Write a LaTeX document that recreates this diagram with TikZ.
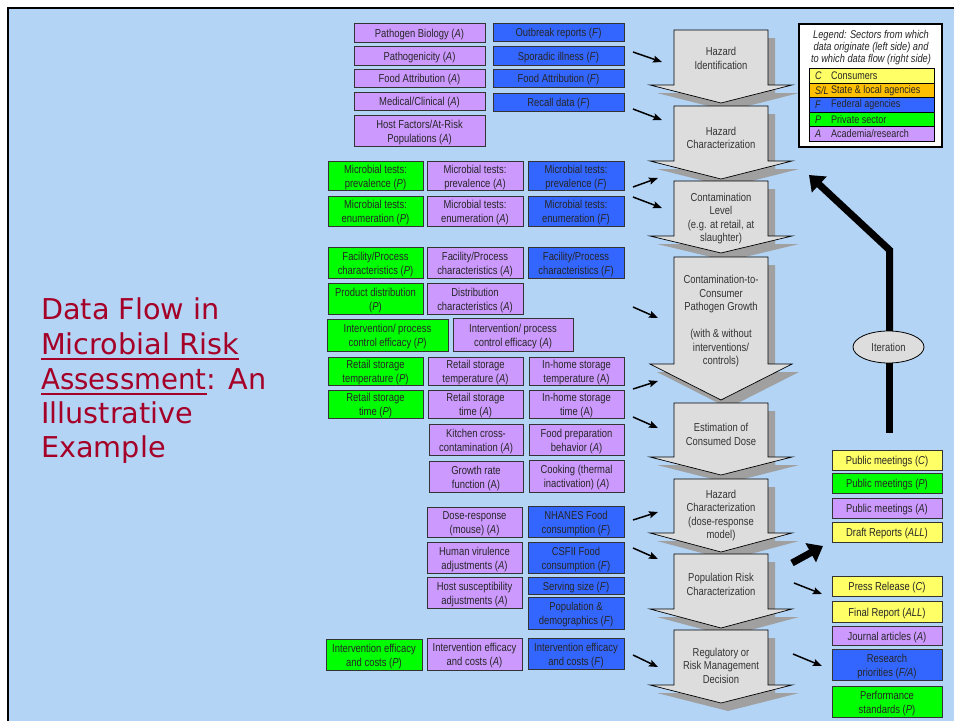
\documentclass[tikz,border=0pt]{standalone}
\usepackage{fontspec}
\setmainfont{Liberation Sans}
\newfontfamily\narrow{Liberation Sans}[FakeStretch=0.82]
\newfontfamily\titlefont{DejaVu Sans}
\usetikzlibrary{arrows.meta,shapes.geometric}
\definecolor{bg}{RGB}{179,212,245}
\definecolor{purp}{RGB}{204,153,255}
\definecolor{fed}{RGB}{51,102,255}
\definecolor{priv}{RGB}{0,255,0}
\definecolor{cons}{RGB}{255,255,102}
\definecolor{stl}{RGB}{255,192,0}
\definecolor{arrowfill}{RGB}{221,221,221}
\definecolor{shad}{RGB}{160,160,160}
\definecolor{titlered}{RGB}{165,0,40}
\newcommand\ita[1]{\textit{#1}}
\newcommand\bx[7]{%
 \node[box,fill=#6,minimum width={(#4-#2)*1pt},minimum height={(#5-#3)*1pt}] (#1) at ({(#2+#4)/2},{(#3+#5)/2}) {};
 \node[boxtext] at ([yshift=-1.8pt]#1.center) {#7};}
\newcommand\bigarrow[6]{%
 \fill[shad] (681,{#2+8}) -- (775,{#2+8}) -- (775,{#3+8}) -- (799,{#3+8}) -- (728,{#4+8}) -- (657,{#3+8}) -- (681,{#3+8}) -- cycle;
 \draw[line width=0.7pt, fill=arrowfill] (674,#2) -- (768,#2) -- (768,#3) -- (792,#3) -- (721,#4) -- (650,#3) -- (674,#3) -- cycle;
 \node[arrowtext] (#1) at (721,{#6+1.5}) {#5};}
\newcommand\legrow[6]{%
 \node[draw=black, line width=0.8pt, fill=#2, minimum width=125pt, minimum height={(#4-#3)*1pt}, inner sep=0pt] (#1) at (871.5,{(#3+#4)/2}) {};
 \node[legtext, anchor=west] at (815,{(#3+#4)/2+0.5}) {\ita{#5}};
 \node[legtext, anchor=west] at (831,{(#3+#4)/2+0.5}) {#6};}
\tikzset{
 box/.style={draw=black!80, line width=0.7pt, inner sep=0pt},
 boxtext/.style={inner sep=0pt, align=center, text=black!85, font=\narrow\fontsize{11.5}{14}\selectfont},
 arrowtext/.style={align=center, text=black!80, inner sep=0pt, font=\narrow\fontsize{11.5}{13.5}\selectfont},
 legtext/.style={inner sep=0pt, text=black!85, font=\narrow\fontsize{11}{12}\selectfont},
 flow/.style={line width=1.5pt, -{Stealth[length=9pt,width=7pt,inset=1.5pt]}},
 bigflow/.style={line width=7pt, -{Triangle[length=14pt,width=21pt]}},
 titletext/.style={inner sep=0pt, anchor=base west, text=titlered, font=\titlefont\fontsize{28.7}{34}\selectfont},
 ul/.style={titlered, line width=2pt},
}
\begin{document}
\begin{tikzpicture}[x=1pt,y=-1pt]
\useasboundingbox (0,0) rectangle (954,721);
\fill[white] (0,0) rectangle (954,721);
\fill[bg] (8,8) rectangle (954,721);
\draw[line width=2.5pt] (8,721) -- (8,8) -- (954,8);

% title
\node[titletext] (t1) at (41,319) {Data Flow in};
\node[titletext] (t2) at (41,354) {Microbial Risk};
\node[titletext] (t3) at (41,389) {\addfontfeature{FakeStretch=0.96}Assessment};
\node[titletext] (t3b) at (t3.base east) {: An};
\node[titletext] (t4) at (41,423) {Illustrative};
\node[titletext] (t5) at (41,457) {Example};
\draw[ul] ([yshift=-5pt]t2.base west) -- ([yshift=-5pt]t2.base east);
\draw[ul] ([yshift=-5pt]t3.base west) -- ([yshift=-5pt]t3.base east);

% big flow arrows
\bigarrow{haz}{30}{85}{103}{Hazard\\Identification}{57}
\bigarrow{hch}{106}{161}{179}{Hazard\\Characterization}{136.5}
\bigarrow{clv}{181}{236}{253}{Contamination\\Level\\(e.g. at retail, at\\slaughter)}{217}
\fill[shad] (681,265) -- (775,265) -- (775,372) -- (799,372) -- (728,408) -- (657,372) -- (681,372) -- cycle;
\draw[line width=0.7pt, fill=arrowfill] (674,257) -- (768,257) -- (768,364) -- (792,364) -- (721,400) -- (650,364) -- (674,364) -- cycle;
\node[arrowtext] (ccg) at (721,321.5) {Contamination-to-\\Consumer\\Pathogen Growth\\[13.5pt](with \& without\\interventions/\\controls)};
\bigarrow{ecd}{403}{457}{475}{Estimation of\\Consumed Dose}{433}
\bigarrow{hdr}{479}{533}{552}{Hazard\\Characterization\\(dose-response\\model)}{514}
\bigarrow{prc}{554}{609}{628}{Population Risk\\Characterization}{583}
\bigarrow{rmd}{630}{685}{703}{Regulatory or\\Risk Management\\Decision}{664}

% left data boxes
\bx{pb}{354}{23}{485}{42}{purp}{Pathogen Biology (\ita{A})}
\bx{pg}{354}{46}{485}{65}{purp}{Pathogenicity (\ita{A})}
\bx{faA}{354}{69}{485}{87}{purp}{Food Attribution (\ita{A})}
\bx{mc}{354}{92}{485}{110}{purp}{Medical/Clinical (\ita{A})}
\bx{hf}{354}{115}{485}{146}{purp}{Host Factors/At-Risk\\Populations (\ita{A})}
\bx{ob}{493}{23}{624}{41}{fed}{Outbreak reports (\ita{F})}
\bx{si}{493}{46}{624}{65}{fed}{Sporadic illness (\ita{F})}
\bx{faF}{493}{69}{624}{87}{fed}{Food Attribution (\ita{F})}
\bx{rd}{493}{93}{624}{111}{fed}{Recall data (\ita{F})}

\bx{mpP}{328}{161}{423}{190}{priv}{Microbial tests:\\prevalence (\ita{P})}
\bx{mpA}{427}{161}{523}{190}{purp}{Microbial tests:\\prevalence (\ita{A})}
\bx{mpF}{528}{161}{624}{190}{fed}{Microbial tests:\\prevalence (\ita{F})}
\bx{meP}{328}{196}{423}{226}{priv}{Microbial tests:\\enumeration (\ita{P})}
\bx{meA}{427}{196}{523}{226}{purp}{Microbial tests:\\enumeration (\ita{A})}
\bx{meF}{528}{196}{624}{226}{fed}{Microbial tests:\\enumeration (\ita{F})}

\bx{fcP}{328}{247}{423}{278}{priv}{Facility/Process\\characteristics (\ita{P})}
\bx{fcA}{427}{247}{523}{278}{purp}{Facility/Process\\characteristics (\ita{A})}
\bx{fcF}{528}{247}{624}{278}{fed}{Facility/Process\\characteristics (\ita{F})}
\bx{pdP}{328}{283}{423}{314}{priv}{Product distribution\\(\ita{P})}
\bx{dcA}{427}{283}{523}{314}{purp}{Distribution\\characteristics (\ita{A})}
\bx{ipP}{327}{319}{448}{351}{priv}{Intervention/ process\\control efficacy (\ita{P})}
\bx{ipA}{453}{318}{573}{351}{purp}{Intervention/ process\\control efficacy (\ita{A})}
\bx{rtP}{328}{357}{423}{385}{priv}{Retail storage\\temperature (\ita{P})}
\bx{rtA}{428}{357}{523}{385}{purp}{Retail storage\\temperature (\ita{A})}
\bx{htA}{529}{357}{624}{385}{purp}{In-home storage\\temperature (A)}
\bx{rsP}{328}{390}{423}{418}{priv}{Retail storage\\time (\ita{P})}
\bx{rsA}{428}{390}{523}{418}{purp}{Retail storage\\time (\ita{A})}
\bx{hsA}{529}{390}{624}{418}{purp}{In-home storage\\time (A)}
\bx{kc}{429}{424}{523}{455}{purp}{Kitchen cross-\\contamination (\ita{A})}
\bx{fp}{529}{424}{624}{455}{purp}{Food preparation\\behavior (\ita{A})}
\bx{gr}{429}{461}{523}{492}{purp}{Growth rate\\function (A)}
\bx{ck}{529}{460}{624}{492}{purp}{Cooking (thermal\\inactivation) (\ita{A})}

\bx{dr}{427}{507}{522}{537}{purp}{Dose-response\\(mouse) (\ita{A})}
\bx{nh}{528}{506}{624}{537}{fed}{NHANES Food\\consumption (\ita{F})}
\bx{hv}{427}{542}{522}{573}{purp}{Human virulence\\adjustments (\ita{A})}
\bx{cs}{528}{542}{624}{573}{fed}{CSFII Food\\consumption (\ita{F})}
\bx{hsu}{427}{577}{522}{608}{purp}{Host susceptibility\\adjustments (\ita{A})}
\bx{ss}{528}{577}{624}{594}{fed}{Serving size (\ita{F})}
\bx{pop}{528}{597}{624}{629}{fed}{Population \&\\demographics (\ita{F})}
\bx{ieP}{326}{639}{422}{670}{priv}{Intervention efficacy\\and costs (\ita{P})}
\bx{ieA}{427}{638}{522}{670}{purp}{Intervention efficacy\\and costs (\ita{A})}
\bx{ieF}{528}{638}{624}{669}{fed}{Intervention efficacy\\and costs (\ita{F})}

% right output boxes
\bx{pmC}{832}{450}{942}{470}{cons}{Public meetings (\ita{C})}
\bx{pmP}{832}{473}{942}{493}{priv}{Public meetings (\ita{P})}
\bx{pmA}{832}{498}{942}{518}{purp}{Public meetings (\ita{A})}
\bx{drf}{832}{522}{942}{542}{cons}{Draft Reports (\ita{ALL})}
\bx{prs}{832}{576}{942}{596}{cons}{Press Release (\ita{C})}
\bx{frp}{832}{601}{942}{622}{cons}{Final Report (\ita{ALL})}
\bx{jar}{832}{626}{942}{645}{purp}{Journal articles (\ita{A})}
\bx{rpr}{832}{649}{942}{680}{fed}{Research\\priorities (\ita{F/A})}
\bx{pst}{832}{686}{942}{717}{priv}{Performance\\standards (\ita{P})}

% legend
\node[draw=black, line width=1.6pt, fill=white, minimum width=143pt, minimum height=123pt, inner sep=0pt] (leg) at (870.5,85.5) {};
\node[legtext, align=center, font=\narrow\itshape\fontsize{11.3}{12}\selectfont] (legt) at (871,47.5) {Legend: Sectors from which\\data originate (left side) and\\to which data flow (right side)};
\legrow{lc}{cons}{68}{83}{C}{Consumers}
\legrow{ls}{stl}{83}{97}{S/L}{State \& local agencies}
\legrow{lf}{fed}{97}{112}{F}{Federal agencies}
\legrow{lp}{priv}{112}{126}{P}{Private sector}
\legrow{la}{purp}{126}{141}{A}{Academia/research}

% small data-flow arrows
\coordinate (a1s) at (633,52);  \coordinate (a1e) at (662,62);
\coordinate (a2s) at (633,109); \coordinate (a2e) at (662,120);
\coordinate (a3s) at (633,187); \coordinate (a3e) at (658,178);
\coordinate (a4s) at (633,197); \coordinate (a4e) at (662,208);
\coordinate (a5s) at (633,307); \coordinate (a5e) at (658,318);
\coordinate (a6s) at (633,389); \coordinate (a6e) at (658,381);
\coordinate (a7s) at (633,417); \coordinate (a7e) at (658,428);
\coordinate (a8s) at (633,520); \coordinate (a8e) at (658,512);
\coordinate (a9s) at (633,548); \coordinate (a9e) at (658,559);
\coordinate (a10s) at (633,655); \coordinate (a10e) at (658,667);
\foreach \i in {1,...,10} {\draw[flow] (a\i s) -- (a\i e);}

% right side arrows
\coordinate (b1s) at (794,583); \coordinate (b1e) at (822,594);
\coordinate (b2s) at (793,654); \coordinate (b2e) at (822,666);
\draw[flow] (b1s) -- (b1e);
\draw[flow] (b2s) -- (b2e);
\coordinate (bts) at (792,563); \coordinate (bte) at (823,546);
\draw[bigflow] (bts) -- (bte);

% iteration loop
\coordinate (itb) at (889.5,433);
\coordinate (itk) at (889.5,250);
\coordinate (itt) at (809,175);
\draw[line width=7pt] (itb) -- (889.5,347);
\draw[bigflow, line join=miter] (889.5,347) -- (itk) -- (itt);
\node[ellipse, draw=black, line width=0.8pt, fill=arrowfill, minimum width=71pt, minimum height=32pt, inner sep=0pt, font=\narrow\fontsize{11.5}{13}\selectfont, text=black!80] (iter) at (888.5,347) {Iteration};
\end{tikzpicture}
\end{document}
